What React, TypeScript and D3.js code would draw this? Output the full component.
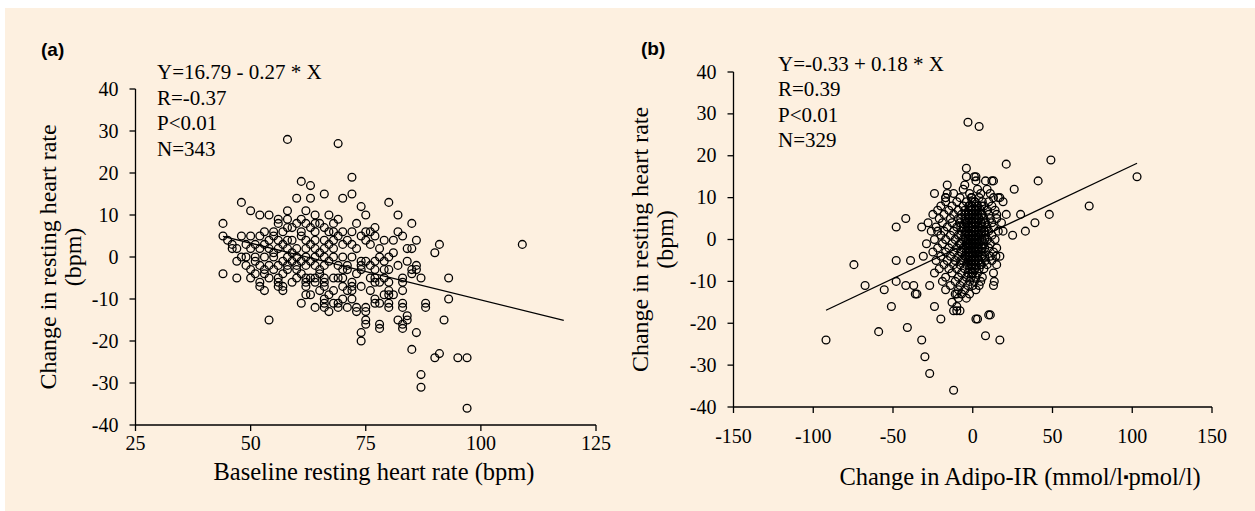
import React from "react";
import * as d3 from "d3";

// ---------- Data ----------
const leftXTicks = [25, 50, 75, 100, 125];
const rightXTicks = [-150, -100, -50, 0, 50, 100, 150];
const yTicks = [-40, -30, -20, -10, 0, 10, 20, 30, 40];

const leftStats = ["Y=16.79 - 0.27 * X", "R=-0.37", "P<0.01", "N=343"];
const rightStats = ["Y=-0.33 + 0.18 * X", "R=0.39", "P<0.01", "N=329"];

const leftFit = { intercept: 16.79, slope: -0.27, from: 44, to: 118 };
const rightFit = { intercept: -0.33, slope: 0.18, from: -92, to: 103 };

// [baseline resting HR, change in resting HR]
const leftPoints: [number, number][] = [
  [58,28],[69,27],[72,19],[61,18],[63,17],[66,15],[72,15],[60,14],[63,14],[70,14],[48,13],[80,13],[74,12],
  [50,11],[58,11],[62,11],[52,10],[54,10],[64,10],[67,10],[75,10],[82,10],[56,9],[58,9],[61,9],[69,9],
  [44,8],[56,8],[60,8],[65,8],[68,8],[85,8],[77,7],
  [53,6],[55,6],[57,6],[61,6],[64,6],[67,6],[72,6],[75,6],[82,6],
  [44,5],[48,5],[50,5],[52,5],[77,5],[83,5],
  [45,4],[54,4],[56,4],[58,4],[59,4],[62,4],[64,4],[66,4],[68,4],[75,4],[79,4],[81,4],[86,4],
  [46,3],[91,3],[109,3],
  [47,2],[50,2],[52,2],[54,2],[56,2],[58,2],[60,2],[62,2],[64,2],[66,2],[68,2],[85,2],
  [90,1],
  [49,0],[51,0],[53,0],[55,0],[58,0],[60,0],[62,0],[64,0],[66,0],[68,0],[72,0],
  [51,-1],[74,-1],[75,-1],[77,-1],[79,-1],[84,-1],
  [49,-2],[52,-2],[54,-2],[56,-2],[58,-2],[60,-2],[62,-2],[64,-2],[66,-2],[69,-2],[71,-2],[74,-2],[76,-2],[86,-2],
  [53,-3],[55,-3],[58,-3],[60,-3],[65,-3],[70,-3],[71,-3],[74,-3],[77,-3],[79,-3],[80,-3],[85,-3],[86,-3],
  [44,-4],[51,-4],[53,-4],[85,-4],
  [47,-5],[50,-5],[56,-5],[60,-5],[62,-5],[63,-5],[64,-5],[66,-5],[68,-5],[69,-5],[77,-5],[79,-5],[83,-5],[87,-5],[93,-5],
  [52,-6],[56,-6],[62,-6],[64,-6],[66,-6],[72,-6],[77,-6],[80,-6],[83,-6],
  [52,-7],[56,-7],[57,-7],[62,-7],[66,-7],[70,-7],[72,-7],
  [53,-8],[57,-8],[71,-8],[72,-8],[76,-8],[80,-8],
  [62,-9],[63,-9],[67,-9],[80,-9],[81,-9],
  [66,-10],[70,-10],[72,-10],[77,-10],[93,-10],
  [61,-11],[66,-11],[68,-11],[69,-11],[77,-11],[78,-11],[80,-11],[83,-11],[88,-11],
  [66,-12],[69,-12],[73,-12],[75,-12],[80,-12],[83,-12],[88,-12],
  [73,-13],[75,-13],[84,-14],
  [54,-15],[75,-15],[82,-15],[84,-15],[92,-15],
  [75,-16],[78,-16],[83,-16],[78,-17],[83,-17],[74,-18],[86,-18],[74,-20],[85,-22],[91,-23],
  [90,-24],[95,-24],[97,-24],[87,-28],[87,-31],[97,-36],
  [57,3],[59,1],[61,-1],[63,3],[65,1],[67,-1],[63,7],[59,7],[55,5],[57,-4],[61,-4],[65,-4],[67,3],
  [69,5],[70,0],[71,4],[73,2],[73,-4],[59,-6],[61,5],[65,-8],[68,-8],[70,3],[70,6],[70,-5],[54,-5],
  [55,1],[57,-1],[59,-1],[63,-1],[49,3],[48,0],[47,-1],[46,2],[50,-3],[51,3],[53,3],[58,7],[62,8],
  [64,8],[66,7],[68,6],[72,3],[74,5],[76,3],[78,2],[80,0],[82,-2],[84,2],[73,8],[76,6],[78,0],[81,1],
  [83,-8],[74,-7],[76,-5],[78,-6],[79,-9],[71,-12],[67,-13],[64,-12]
];

// [change in Adipo-IR, change in resting HR]
const rightPoints: [number, number][] = [
  [-92,-24],[-74.5,-6],[-67.5,-11],[-59,-22],[-55.5,-12],[-51,-16],[-48,-5],[-48,-10],[-48,3],[-42,5],
  [-42,-11],[-41,-21],[-39,-5],[-37,-11],[-36,-13],[-35,-13],[-32,-24],[-32,3],[-30,-28],[-28,4],[-29,-1],
  [-27,-32],[-27,-11],[-24,-16],[-24,-8],[-24,11],[-22,2],[-20,-19],[-17,-12],[-17,9],[-17,10],[-16,13],
  [-16,11],[-13,-15],[-12,-36],[-12,-17],[-11,-13],[-10,-17],[-10,-16],[-10,-13],[-8,-17],[-8,10],[-5,13],
  [-4,17],[-4,15],[-3,28],[1,15],[2,15],[2,14],[2,-12],[2,-19],[3,-19],[4,27],[8,14],[8,-23],[10,-18],
  [11,-18],[12,14],[13,14],[13,10],[13,-8],[13.5,-10],[13,-11],[14.5,-4],[15,5],[15,-6],[16,10],[16,2],
  [17,10],[17,-4],[17,-24],[19,9],[19,2],[21,18],[21,6],[25,1],[26,12],[30,6],[33,2],[39,4],[41,14],
  [48,6],[49,19],[73,8],[103,15],[-31,-4],
  [-6,12],[3,12],[9,12],
  [-12,11],[-2,11],[5,11],[11,11],
  [-17,10],[-1,10],[4,10],
  [-10,9],[-4,9],[1,9],[6,9],[10,9],
  [-20,8],[-13,8],[-6,8],[-2,8],[3,8],[7,8],[12,8],
  [-22,7],[-15,7],[-9,7],[-5,7],[-1,7],[2,7],[5,7],[9,7],[14,7],
  [-25,6],[-18,6],[-12,6],[-7,6],[-3,6],[0,6],[3,6],[6,6],[10,6],[15,6],
  [-21,5],[-14,5],[-9,5],[-5,5],[-2,5],[1,5],[4,5],[7,5],[11,5],
  [-19,4],[-13,4],[-8,4],[-4,4],[-1,4],[2,4],[5,4],[8,4],[12,4],[18,4],
  [-23,3],[-16,3],[-10,3],[-6,3],[-3,3],[0,3],[3,3],[6,3],[9,3],[13,3],
  [-26,2],[-18,2],[-12,2],[-7,2],[-4,2],[-1,2],[1,2],[4,2],[7,2],[10,2],
  [-20,1],[-14,1],[-9,1],[-5,1],[-2,1],[0,1],[2,1],[5,1],[8,1],[12,1],
  [-24,0],[-17,0],[-11,0],[-6,0],[-3,0],[-1,0],[1,0],[3,0],[6,0],[9,0],[14,0],
  [-19,-1],[-13,-1],[-8,-1],[-4,-1],[-2,-1],[0,-1],[2,-1],[4,-1],[7,-1],[11,-1],
  [-22,-2],[-15,-2],[-10,-2],[-6,-2],[-3,-2],[-1,-2],[1,-2],[3,-2],[6,-2],[10,-2],[15,-2],
  [-25,-3],[-17,-3],[-12,-3],[-7,-3],[-4,-3],[-2,-3],[0,-3],[2,-3],[5,-3],[8,-3],[13,-3],
  [-20,-4],[-14,-4],[-9,-4],[-5,-4],[-2,-4],[0,-4],[3,-4],[6,-4],[11,-4],
  [-23,-5],[-16,-5],[-11,-5],[-6,-5],[-3,-5],[-1,-5],[1,-5],[4,-5],[8,-5],[12,-5],
  [-18,-6],[-12,-6],[-8,-6],[-4,-6],[-1,-6],[2,-6],[5,-6],[9,-6],
  [-21,-7],[-15,-7],[-10,-7],[-5,-7],[-2,-7],[1,-7],[4,-7],[7,-7],
  [-13,-8],[-7,-8],[-3,-8],[0,-8],[3,-8],
  [-17,-9],[-9,-9],[-4,-9],[-1,-9],[2,-9],[6,-9],
  [-19,-10],[-11,-10],[-6,-10],[-2,-10],[1,-10],[5,-10],
  [-14,-11],[-8,-11],[-3,-11],[0,-11],[4,-11],
  [-9,-12],[-5,-12],[-7,-13],[-2,-13],[-9,-14],[-4,-14],
  [-0.5,10],[-0.5,9],[-0.5,8],[-0.5,7],[-0.5,6],[-0.5,5],[-0.5,4],[-0.5,3],[-0.5,2],[-0.5,1],
  [-0.5,0],[-0.5,-1],[-0.5,-2],[-0.5,-3],[-0.5,-4],[-0.5,-5],[-0.5,-6],[-0.5,-7],[-0.5,-8],
  [1.5,9],[1.5,8],[1.5,7],[1.5,6],[1.5,5],[1.5,4],[1.5,3],[1.5,2],[1.5,1],[1.5,0],
  [1.5,-1],[1.5,-2],[1.5,-3],[1.5,-4],[1.5,-5],[1.5,-6],[1.5,-7],
  [-2.5,8],[-2.5,7],[-2.5,6],[-2.5,5],[-2.5,4],[-2.5,3],[-2.5,2],[-2.5,1],[-2.5,0],
  [-2.5,-1],[-2.5,-2],[-2.5,-3],[-2.5,-4],[-2.5,-5],[-2.5,-6],
  [3.5,7],[3.5,5],[3.5,3],[3.5,1],[3.5,-1],[3.5,-3],[3.5,-5],
  [-4.5,6],[-4.5,4],[-4.5,2],[-4.5,0],[-4.5,-2],[-4.5,-4],
  [5.5,8],[5.5,6],[5.5,4],[5.5,2],[5.5,0],[5.5,-2],[5.5,-4],[5.5,-6],
  [-7.5,5],[-7.5,3],[-7.5,1],[-7.5,-1],[-7.5,-3],[-7.5,-5],
  [7.5,4],[7.5,2],[7.5,0],[7.5,-2],[7.5,-4]
];

// ---------- Layout ----------
const W = 1255;
const H = 511;
const BG = "#fdf0e0";
const SERIF = "'Liberation Serif', 'Times New Roman', serif";
const SANS = "'Liberation Sans', Arial, sans-serif";

type PanelProps = {
  x: d3.ScaleLinear<number, number>;
  y: d3.ScaleLinear<number, number>;
  xTicks: number[];
  xLabelOffset: number;
  points: [number, number][];
  fit: { intercept: number; slope: number; from: number; to: number };
  stats: string[];
  statsX: number;
  statsY0: number;
  label: string;
  labelX: number;
  labelY: number;
  yTitleX: number;
  xTitle: React.ReactNode;
  xTitleX: number;
  xTitleY: number;
};

function Panel(p: PanelProps) {
  const [x0, x1] = p.x.range();
  const [y0, y1] = p.y.range(); // y0 = bottom
  const line = d3
    .line<number>()
    .x((v) => p.x(v))
    .y((v) => p.y(p.fit.intercept + p.fit.slope * v));
  const yMid = (y0 + y1) / 2;
  return (
    <g>
      <text x={p.labelX} y={p.labelY} fontFamily={SANS} fontWeight="bold" fontSize={19}>
        {p.label}
      </text>
      <line x1={x0} x2={x0} y1={y1} y2={y0} stroke="#000" strokeWidth={1.3} />
      <line x1={x0} x2={x1} y1={y0} y2={y0} stroke="#000" strokeWidth={1.3} />
      {yTicks.map((t) => (
        <g key={"y" + t}>
          <line x1={x0 - 6} x2={x0} y1={p.y(t)} y2={p.y(t)} stroke="#000" strokeWidth={1.3} />
          <text x={x0 - 17} y={p.y(t) + 6.5} textAnchor="end" fontFamily={SERIF} fontSize={20}>
            {t}
          </text>
        </g>
      ))}
      {p.xTicks.map((t) => (
        <g key={"x" + t}>
          <line x1={p.x(t)} x2={p.x(t)} y1={y0} y2={y0 + 6} stroke="#000" strokeWidth={1.3} />
          <text x={p.x(t)} y={y0 + p.xLabelOffset} textAnchor="middle" fontFamily={SERIF} fontSize={20}>
            {t}
          </text>
        </g>
      ))}
      {p.points.map((d, i) => (
        <circle
          key={i}
          cx={p.x(d[0])}
          cy={p.y(d[1])}
          r={3.9}
          fill="none"
          stroke="#000"
          strokeWidth={1.3}
        />
      ))}
      <path d={line([p.fit.from, p.fit.to]) || ""} stroke="#000" strokeWidth={1.3} fill="none" />
      {p.stats.map((s, i) => (
        <text key={s} x={p.statsX} y={p.statsY0 + i * 25.5} fontFamily={SERIF} fontSize={21}>
          {s}
        </text>
      ))}
      <g transform={`translate(${p.yTitleX},${yMid}) rotate(-90)`}>
        <text x={0} y={0} textAnchor="middle" fontFamily={SERIF} fontSize={24}>
          Change in resting heart rate
        </text>
        <text x={0} y={25} textAnchor="middle" fontFamily={SERIF} fontSize={24}>
          (bpm)
        </text>
      </g>
      <text x={p.xTitleX} y={p.xTitleY} textAnchor="middle" fontFamily={SERIF} fontSize={24.5}>
        {p.xTitle}
      </text>
    </g>
  );
}

export default function App() {
  const xL = d3.scaleLinear().domain([25, 125]).range([135.5, 596]);
  const yL = d3.scaleLinear().domain([-40, 40]).range([425, 89]);
  const xR = d3.scaleLinear().domain([-150, 150]).range([733.5, 1212]);
  const yR = d3.scaleLinear().domain([-40, 40]).range([407, 72]);
  return (
    <svg
      width={W}
      height={H}
      style={{ position: "absolute", left: 0, top: 0, display: "block" }}
    >
      <rect x={0} y={0} width={W} height={H} fill="#fff" />
      <rect x={5} y={8} width={W - 5} height={H - 8} fill={BG} />
      <Panel
        x={xL}
        y={yL}
        xTicks={leftXTicks}
        xLabelOffset={25}
        points={leftPoints}
        fit={leftFit}
        stats={leftStats}
        statsX={157}
        statsY0={79}
        label="(a)"
        labelX={41}
        labelY={56}
        yTitleX={56}
        xTitle="Baseline resting heart rate (bpm)"
        xTitleX={374}
        xTitleY={480}
      />
      <Panel
        x={xR}
        y={yR}
        xTicks={rightXTicks}
        xLabelOffset={36}
        points={rightPoints}
        fit={rightFit}
        stats={rightStats}
        statsX={778}
        statsY0={70.5}
        label="(b)"
        labelX={641}
        labelY={55}
        yTitleX={648}
        xTitle={
          <>
            Change in Adipo-IR (mmol/l
            <tspan fontSize={15} dy={-3}>▪</tspan>
            <tspan dy={3}>pmol/l)</tspan>
          </>
        }
        xTitleX={1020}
        xTitleY={485}
      />
    </svg>
  );
}
